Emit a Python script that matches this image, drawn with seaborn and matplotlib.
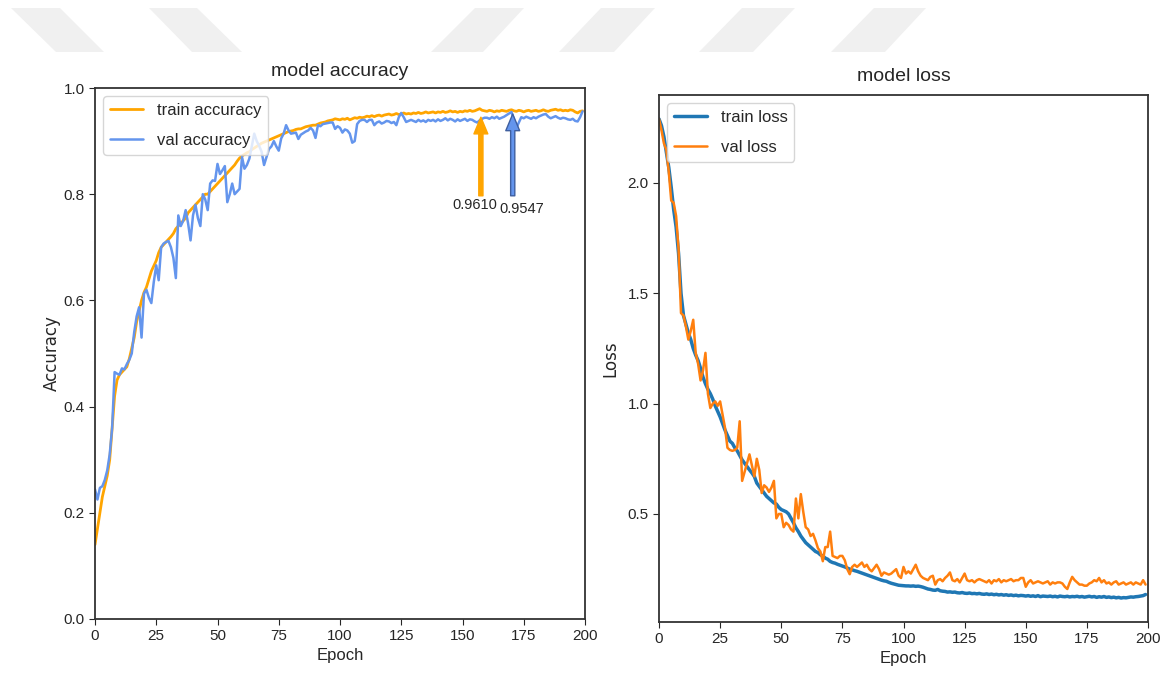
import numpy as np
import pandas as pd
import matplotlib
matplotlib.use("Agg")
import matplotlib.pyplot as plt
from matplotlib.patches import Polygon
import seaborn as sns

# training history (epochs 0..199)
epochs = list(range(200))

train_acc = [
    0.14, 0.17, 0.20, 0.23, 0.25, 0.27, 0.30, 0.36, 0.42, 0.45,
    0.46, 0.465, 0.47, 0.475, 0.49, 0.51, 0.53, 0.56, 0.58, 0.60,
    0.615, 0.625, 0.64, 0.655, 0.665, 0.675, 0.69, 0.70, 0.705, 0.71,
    0.715, 0.72, 0.726, 0.735, 0.74, 0.745, 0.75, 0.755, 0.765, 0.77,
    0.775, 0.78, 0.785, 0.79, 0.795, 0.80, 0.80, 0.805, 0.81, 0.815,
    0.82, 0.825, 0.83, 0.835, 0.84, 0.845, 0.85, 0.855, 0.862, 0.868,
    0.872, 0.875, 0.878, 0.88, 0.884, 0.887, 0.89, 0.893, 0.896, 0.898,
    0.90, 0.902, 0.904, 0.906, 0.908, 0.91, 0.912, 0.914, 0.916, 0.918,
    0.919, 0.92, 0.922, 0.923, 0.923, 0.925, 0.927, 0.928, 0.929, 0.93,
    0.93, 0.932, 0.934, 0.935, 0.936, 0.938, 0.939, 0.94, 0.942, 0.941,
    0.940, 0.942, 0.941, 0.943, 0.940, 0.942, 0.944, 0.943, 0.945, 0.944,
    0.945, 0.947, 0.946, 0.948, 0.946, 0.948, 0.949, 0.947, 0.949, 0.950,
    0.951, 0.949, 0.950, 0.952, 0.950, 0.951, 0.953, 0.951, 0.952, 0.951,
    0.953, 0.952, 0.954, 0.952, 0.953, 0.955, 0.953, 0.954, 0.955, 0.953,
    0.955, 0.954, 0.956, 0.954, 0.955, 0.957, 0.955, 0.956, 0.954, 0.956,
    0.955, 0.957, 0.956, 0.958, 0.956, 0.957, 0.959, 0.961, 0.958, 0.957,
    0.956, 0.958, 0.957, 0.955, 0.957, 0.956, 0.958, 0.957, 0.956, 0.958,
    0.959, 0.957, 0.956, 0.958, 0.957, 0.955, 0.957, 0.958, 0.956, 0.957,
    0.958, 0.956, 0.957, 0.959, 0.957, 0.956, 0.958, 0.959, 0.960, 0.958,
    0.959, 0.957, 0.958, 0.957, 0.959, 0.958, 0.955, 0.953, 0.956, 0.957,
]

val_acc = [
    0.244, 0.225, 0.247, 0.25, 0.262, 0.28, 0.31, 0.36, 0.465, 0.462,
    0.46, 0.472, 0.47, 0.48, 0.488, 0.50, 0.54, 0.57, 0.587, 0.53,
    0.613, 0.62, 0.605, 0.595, 0.635, 0.666, 0.638, 0.70, 0.707, 0.71,
    0.712, 0.70, 0.68, 0.642, 0.76, 0.74, 0.75, 0.77, 0.745, 0.713,
    0.76, 0.78, 0.755, 0.74, 0.80, 0.79, 0.77, 0.82, 0.826, 0.825,
    0.857, 0.838, 0.845, 0.853, 0.785, 0.80, 0.82, 0.80, 0.805, 0.81,
    0.87, 0.848, 0.855, 0.867, 0.89, 0.914, 0.90, 0.891, 0.88, 0.855,
    0.87, 0.885, 0.89, 0.90, 0.89, 0.882, 0.905, 0.914, 0.93, 0.92,
    0.914, 0.915, 0.916, 0.904, 0.912, 0.915, 0.918, 0.92, 0.925, 0.92,
    0.906, 0.93, 0.928, 0.932, 0.933, 0.934, 0.935, 0.935, 0.923, 0.928,
    0.925, 0.916, 0.922, 0.92, 0.914, 0.897, 0.90, 0.932, 0.938, 0.94,
    0.94, 0.936, 0.94, 0.94, 0.93, 0.935, 0.937, 0.933, 0.935, 0.938,
    0.937, 0.934, 0.936, 0.93, 0.945, 0.953, 0.945, 0.936, 0.938, 0.94,
    0.938, 0.936, 0.94, 0.937, 0.939, 0.936, 0.94, 0.938, 0.94, 0.937,
    0.941, 0.938, 0.94, 0.943, 0.939, 0.942, 0.94, 0.937, 0.941, 0.938,
    0.94, 0.942, 0.938, 0.941, 0.94, 0.937, 0.935, 0.939, 0.942, 0.944,
    0.944, 0.942, 0.945, 0.943, 0.946, 0.942, 0.944, 0.946, 0.949, 0.952,
    0.9547, 0.94, 0.925, 0.935, 0.945, 0.943, 0.946, 0.944, 0.942, 0.945,
    0.943, 0.946, 0.948, 0.95, 0.951, 0.946, 0.943, 0.945, 0.947, 0.944,
    0.942, 0.944, 0.943, 0.941, 0.94, 0.942, 0.938, 0.937, 0.945, 0.956,
]

train_loss = [
    2.29, 2.26, 2.21, 2.14, 2.07, 1.98, 1.88, 1.80, 1.68, 1.50,
    1.40, 1.36, 1.32, 1.29, 1.25, 1.22, 1.195, 1.16, 1.12, 1.09,
    1.065, 1.045, 1.02, 0.99, 0.965, 0.94, 0.91, 0.88, 0.855, 0.83,
    0.82, 0.80, 0.786, 0.765, 0.745, 0.73, 0.715, 0.70, 0.686, 0.67,
    0.64, 0.625, 0.61, 0.595, 0.58, 0.57, 0.56, 0.55, 0.545, 0.53,
    0.52, 0.515, 0.51, 0.50, 0.48, 0.46, 0.437, 0.42, 0.40, 0.385,
    0.37, 0.36, 0.35, 0.34, 0.33, 0.325, 0.315, 0.31, 0.30, 0.295,
    0.285, 0.28, 0.277, 0.272, 0.268, 0.264, 0.26, 0.255, 0.25, 0.247,
    0.243, 0.24, 0.236, 0.232, 0.228, 0.224, 0.22, 0.216, 0.212, 0.208,
    0.204, 0.20, 0.197, 0.195, 0.19, 0.186, 0.183, 0.18, 0.177, 0.176,
    0.175, 0.174, 0.174, 0.173, 0.174, 0.172, 0.173, 0.171, 0.168, 0.164,
    0.16, 0.158, 0.155, 0.154, 0.158, 0.152, 0.15, 0.149, 0.146, 0.147,
    0.145, 0.146, 0.143, 0.142, 0.144, 0.141, 0.14, 0.142, 0.139, 0.14,
    0.138, 0.14, 0.137, 0.136, 0.138, 0.135, 0.137, 0.134, 0.136, 0.133,
    0.135, 0.132, 0.134, 0.131, 0.133, 0.13, 0.132, 0.129, 0.131, 0.13,
    0.128, 0.13, 0.127, 0.129, 0.126, 0.13, 0.125, 0.128, 0.127, 0.126,
    0.128, 0.125, 0.127, 0.124, 0.128, 0.126, 0.125, 0.127, 0.124, 0.126,
    0.125, 0.127, 0.124, 0.126, 0.123, 0.125, 0.127, 0.124, 0.126, 0.122,
    0.125, 0.123, 0.126, 0.122, 0.124, 0.121, 0.123, 0.12, 0.122, 0.119,
    0.121, 0.12, 0.122, 0.124, 0.123, 0.125, 0.126, 0.128, 0.13, 0.135,
]

val_loss = [
    2.29, 2.24, 2.18, 2.15, 2.05, 1.92, 1.91, 1.85, 1.70, 1.41,
    1.40, 1.35, 1.29, 1.33, 1.38, 1.23, 1.18, 1.105, 1.15, 1.23,
    1.045, 0.98, 1.0, 1.01, 0.99, 1.01, 0.95, 0.89, 0.80, 0.79,
    0.786, 0.79, 0.80, 0.92, 0.65, 0.69, 0.73, 0.77, 0.72, 0.67,
    0.75, 0.70, 0.595, 0.63, 0.62, 0.60, 0.62, 0.65, 0.48, 0.50,
    0.50, 0.44, 0.46, 0.45, 0.43, 0.42, 0.57, 0.48, 0.59, 0.51,
    0.44, 0.43, 0.40, 0.41, 0.38, 0.345, 0.33, 0.286, 0.35, 0.35,
    0.42, 0.31, 0.305, 0.30, 0.31, 0.31, 0.29, 0.25, 0.227, 0.26,
    0.27, 0.26, 0.27, 0.28, 0.26, 0.27, 0.25, 0.24, 0.255, 0.27,
    0.25, 0.22, 0.235, 0.23, 0.225, 0.23, 0.24, 0.25, 0.22, 0.21,
    0.26, 0.23, 0.24, 0.23, 0.25, 0.27, 0.24, 0.22, 0.21, 0.205,
    0.20, 0.215, 0.22, 0.18, 0.20, 0.205, 0.195, 0.21, 0.22, 0.235,
    0.20, 0.195, 0.205, 0.19, 0.21, 0.23, 0.20, 0.195, 0.20, 0.19,
    0.20, 0.205, 0.20, 0.195, 0.19, 0.20, 0.185, 0.20, 0.195, 0.205,
    0.19, 0.20, 0.195, 0.20, 0.205, 0.195, 0.20, 0.20, 0.21, 0.21,
    0.17, 0.19, 0.20, 0.185, 0.19, 0.195, 0.19, 0.185, 0.19, 0.195,
    0.18, 0.19, 0.185, 0.19, 0.19, 0.185, 0.17, 0.16, 0.19, 0.215,
    0.20, 0.19, 0.18, 0.18, 0.175, 0.175, 0.185, 0.19, 0.20, 0.195,
    0.21, 0.19, 0.20, 0.185, 0.19, 0.18, 0.19, 0.195, 0.18, 0.185,
    0.19, 0.18, 0.185, 0.19, 0.18, 0.19, 0.185, 0.18, 0.20, 0.18,
]

best_train_acc = 0.9610
best_val_acc = 0.9547
best_train_epoch = 157.5
best_val_epoch = 170.5

sns.set_style("ticks")
plt.rcParams['font.family'] = ['Liberation Sans', 'DejaVu Sans']
plt.rcParams['axes.edgecolor'] = '#333333'
plt.rcParams['axes.linewidth'] = 1.3

df = pd.DataFrame({'epoch': epochs, 'train_acc': train_acc, 'val_acc': val_acc,
                   'train_loss': train_loss, 'val_loss': val_loss})

fig = plt.figure(figsize=(11.6, 6.78), dpi=100)

# faint watermark band along the top edge
W, H = 1160.0, 678.0
shapes = [
    [(11, 8), (60, 8), (104, 52), (56, 52)],
    [(149, 8), (197, 8), (242, 52), (192, 52)],
    [(475, 8), (524, 8), (483, 52), (431, 52)],
    [(601, 8), (655, 8), (614, 52), (559, 52)],
    [(742, 8), (795, 8), (753, 52), (699, 52)],
    [(874, 8), (926, 8), (885, 52), (831, 52)],
]
for s in shapes:
    pts = [(x / W, 1 - y / H) for x, y in s]
    fig.patches.append(Polygon(pts, closed=True, transform=fig.transFigure,
                               facecolor='#f0f0f0', edgecolor='none', zorder=0))

ax1 = fig.add_axes([95 / W, 1 - 619 / H, 490 / W, 531 / H])
ax2 = fig.add_axes([659 / W, 1 - 622 / H, 489 / W, 527 / H])

# accuracy panel
sns.lineplot(data=df, x='epoch', y='train_acc', ax=ax1, color='orange', linewidth=2, label='train accuracy')
sns.lineplot(data=df, x='epoch', y='val_acc', ax=ax1, color='cornflowerblue', linewidth=1.8, label='val accuracy')
ax1.set_xlim(0, 200)
ax1.set_ylim(0, 1.0)
ax1.set_title('model accuracy', fontsize=14, pad=9)
ax1.set_xlabel('Epoch', fontsize=12, labelpad=3)
ax1.set_ylabel('Accuracy', fontsize=12, family='DejaVu Sans', labelpad=2)
ax1.legend(loc='upper left', fontsize=12, handlelength=2.0, labelspacing=0.9)

# arrows to the best epochs, labels set just below
ax1.annotate('', xy=(best_train_epoch, 0.945), xytext=(best_train_epoch, 0.797),
             arrowprops=dict(facecolor='orange', edgecolor='orange', width=3, headwidth=10,
                             headlength=12, shrink=0))
ax1.annotate('', xy=(best_val_epoch, 0.951), xytext=(best_val_epoch, 0.797),
             arrowprops=dict(facecolor='cornflowerblue', edgecolor='#3f5f9f', width=3, headwidth=10,
                             headlength=12, shrink=0))
ax1.text(164.3, 0.792, f'{best_train_acc:.4f}', ha='right', va='top', fontsize=10.5)
ax1.text(165.0, 0.786, f'{best_val_acc:.4f}', ha='left', va='top', fontsize=10.5)

# loss panel
sns.lineplot(data=df, x='epoch', y='train_loss', ax=ax2, color='#1f77b4', linewidth=2.5, label='train loss')
sns.lineplot(data=df, x='epoch', y='val_loss', ax=ax2, color='#ff7f0e', linewidth=1.8, label='val loss')
ax2.set_xlim(0, 200)
ax2.set_title('model loss', fontsize=14, pad=10)
ax2.set_xlabel('Epoch', fontsize=12, labelpad=3)
ax2.set_ylabel('Loss', fontsize=12, family='DejaVu Sans', labelpad=6)
ax2.legend(loc='upper left', fontsize=12, handlelength=2.0, labelspacing=0.9)

for ax in (ax1, ax2):
    ax.tick_params(labelsize=11, direction='out', length=4)

fig.savefig('out.png', dpi=100)
